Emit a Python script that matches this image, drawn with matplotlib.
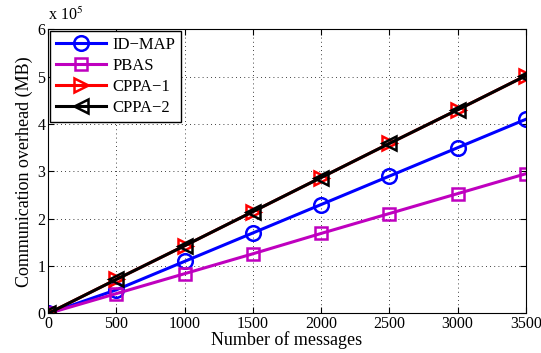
import matplotlib.pyplot as plt
from matplotlib.ticker import FuncFormatter

plt.rcParams['font.family'] = ['Liberation Serif', 'DejaVu Serif']
plt.rcParams['mathtext.fontset'] = 'stix'

messages = [0, 500, 1000, 1500, 2000, 2500, 3000, 3500]
id_map = [0, 0.50e5, 1.10e5, 1.70e5, 2.30e5, 2.90e5, 3.50e5, 4.10e5]
pbas = [0, 0.42e5, 0.84e5, 1.26e5, 1.69e5, 2.11e5, 2.53e5, 2.95e5]
cppa_1 = [0, 0.72e5, 1.43e5, 2.15e5, 2.87e5, 3.59e5, 4.30e5, 5.02e5]
cppa_2 = [0, 0.72e5, 1.43e5, 2.15e5, 2.87e5, 3.59e5, 4.30e5, 5.02e5]

fig = plt.figure(figsize=(5.41, 3.53), dpi=100)
ax = fig.add_axes([0.089, 0.112, 0.883, 0.805])

style = dict(lw=2.2, mew=1.8, mfc='none')
ax.plot(messages, id_map, color='#0000ff', marker='o', ms=10.5, label='ID\u2212MAP', **style)
ax.plot(messages, pbas, color='#bf00bf', marker='s', ms=9, label='PBAS', **style)
ax.plot(messages, cppa_1, color='#ff0000', marker='>', ms=10.5, label='CPPA\u22121', **style)
ax.plot(messages, cppa_2, color='black', marker='<', ms=10.5, label='CPPA\u22122', **style)

ax.set_xlim(0, 3500)
ax.set_ylim(0, 6e5)
ax.set_xticks(range(0, 3501, 500))
ax.set_yticks([i * 1e5 for i in range(7)])
ax.yaxis.set_major_formatter(FuncFormatter(lambda v, p: f'{v / 1e5:g}'))
ax.text(0.0, 1.02, r'x 10$^5$', transform=ax.transAxes, fontsize=11.5,
        ha='left', va='bottom')

ax.grid(True, color='black', ls=(0, (1, 4)), lw=0.6)
ax.tick_params(direction='in', top=True, right=True, labelsize=11.5, length=4, pad=2)
for s in ax.spines.values():
    s.set_linewidth(0.8)

ax.set_xlabel('Number of messages', fontsize=13, labelpad=-1)
ax.set_ylabel('Communication overhead (MB)', fontsize=13, labelpad=3)

leg = ax.legend(loc='upper left', fontsize=12, fancybox=False, edgecolor='black',
                framealpha=1, borderaxespad=0.1, handlelength=3.0,
                labelspacing=0.3, borderpad=0.35, handletextpad=0.4)
leg.get_frame().set_linewidth(1.0)

fig.savefig('out.png', dpi=100)
